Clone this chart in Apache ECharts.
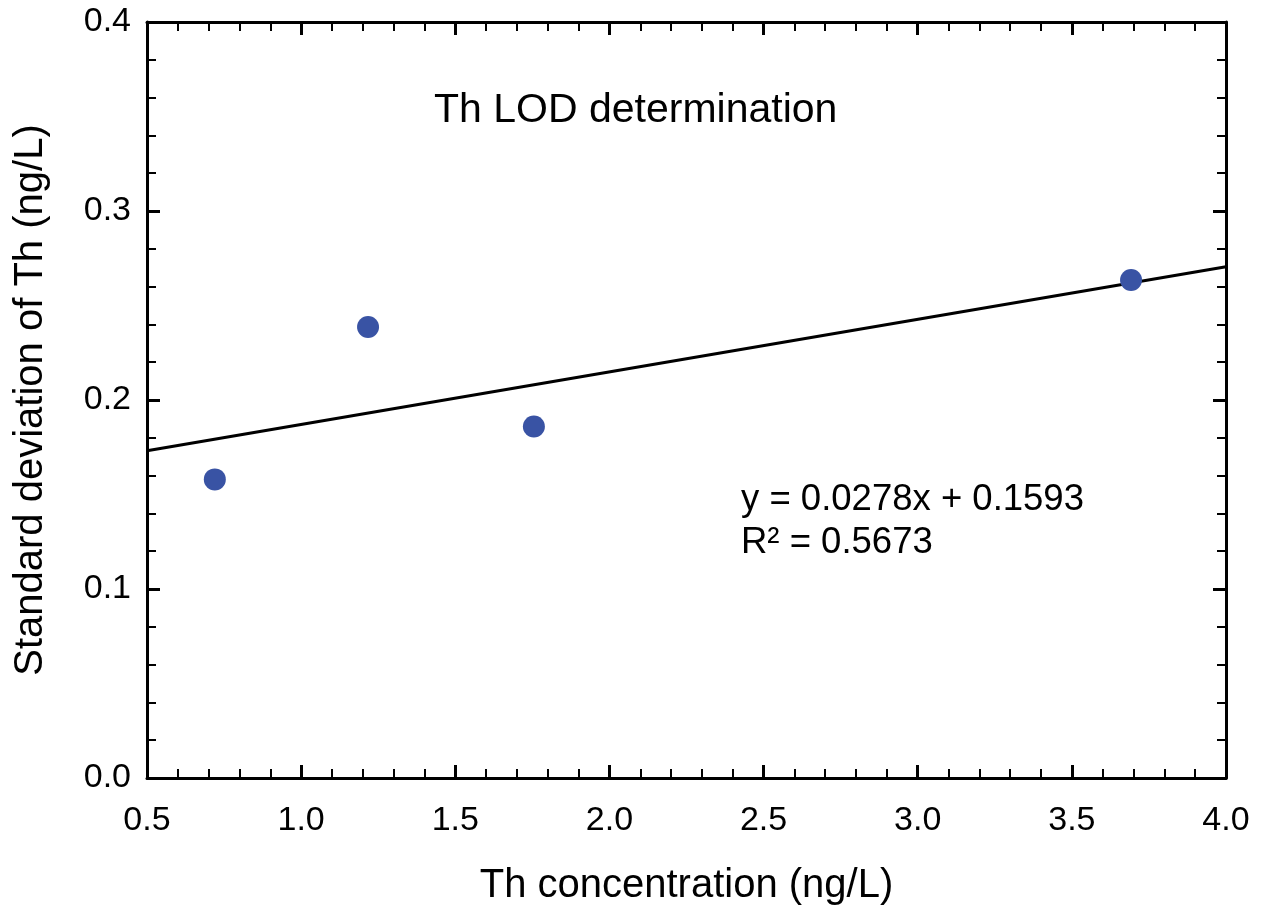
<!DOCTYPE html>
<html>
<head>
<meta charset="utf-8">
<script src="https://cdn.jsdelivr.net/npm/echarts@6/dist/echarts.min.js"></script>
<style>
  html, body { margin: 0; padding: 0; background: #fff; }
  #chart { width: 1272px; height: 916px; }
</style>
</head>
<body>
<div id="chart"></div>
<script>
// measured points
const concX = [0.72, 1.217, 1.755, 3.692];
const stdY = [0.158, 0.2386, 0.186, 0.2635];

// linear fit shown on the chart
const slope = 0.0278;
const intercept = 0.1593;
const fitX = [0.5, 4.0];

const xTicks = ['0.5', '1.0', '1.5', '2.0', '2.5', '3.0', '3.5', '4.0'];
const yTicks = ['0.0', '0.1', '0.2', '0.3', '0.4'];

const FONT = 'Liberation Sans, Arial, sans-serif';

const points = concX.map((x, i) => [x, stdY[i]]);
const fitLine = fitX.map(x => [x, slope * x + intercept]);

const frameAxis = {
  show: true,
  onZero: false,
  lineStyle: { color: '#000', width: 3 },
};
const majorTick = { show: true, inside: true, length: 13, lineStyle: { color: '#000', width: 3 } };
const minorTick = { show: true, splitNumber: 5, length: 9, lineStyle: { color: '#000', width: 2 } };

const xBase = {
  type: 'value',
  min: 0.5,
  max: 4.0,
  interval: 0.5,
  axisLine: frameAxis,
  axisTick: majorTick,
  minorTick: minorTick,
  splitLine: { show: false },
};
const yBase = {
  type: 'value',
  min: 0,
  max: 0.4,
  interval: 0.1,
  axisLine: frameAxis,
  axisTick: majorTick,
  minorTick: minorTick,
  splitLine: { show: false },
};

const chart = echarts.init(document.getElementById('chart'));
chart.setOption({
  animation: false,
  backgroundColor: '#fff',
  textStyle: { fontFamily: FONT },
  title: {
    text: 'Th LOD determination',
    left: 429,
    top: 85,
    textStyle: { fontFamily: FONT, fontSize: 41, fontWeight: 'normal', color: '#000' },
  },
  grid: { left: 147, top: 22, right: 46, bottom: 138 },
  xAxis: [
    Object.assign({}, xBase, {
      position: 'bottom',
      name: 'Th concentration (ng/L)',
      nameLocation: 'middle',
      nameGap: 88,
      nameTextStyle: { fontFamily: FONT, fontSize: 40, color: '#000' },
      axisLabel: {
        margin: 26,
        fontFamily: FONT,
        fontSize: 34,
        color: '#000',
        formatter: (v) => xTicks[Math.round((v - 0.5) / 0.5)],
      },
    }),
    Object.assign({}, xBase, { position: 'top', axisLabel: { show: false } }),
  ],
  yAxis: [
    Object.assign({}, yBase, {
      position: 'left',
      name: 'Standard deviation of Th (ng/L)',
      nameLocation: 'middle',
      nameGap: 96,
      nameTextStyle: { fontFamily: FONT, fontSize: 40, color: '#000' },
      axisLabel: {
        margin: 16,
        fontFamily: FONT,
        fontSize: 34,
        color: '#000',
        formatter: (v) => yTicks[Math.round(v / 0.1)],
      },
    }),
    Object.assign({}, yBase, { position: 'right', axisLabel: { show: false } }),
  ],
  graphic: [
    {
      type: 'text',
      left: 741,
      top: 478,
      style: {
        text: 'y = 0.0278x + 0.1593\nR² = 0.5673',
        fontFamily: FONT,
        fontSize: 36.5,
        lineHeight: 43,
        fill: '#000',
      },
    },
  ],
  series: [
    {
      type: 'line',
      data: fitLine,
      showSymbol: false,
      symbol: 'none',
      lineStyle: { color: '#000', width: 3 },
      z: 2,
    },
    {
      type: 'scatter',
      data: points,
      symbol: 'circle',
      symbolSize: 22,
      itemStyle: { color: '#3953a4', opacity: 1 },
      z: 3,
    },
  ],
});
</script>
</body>
</html>
